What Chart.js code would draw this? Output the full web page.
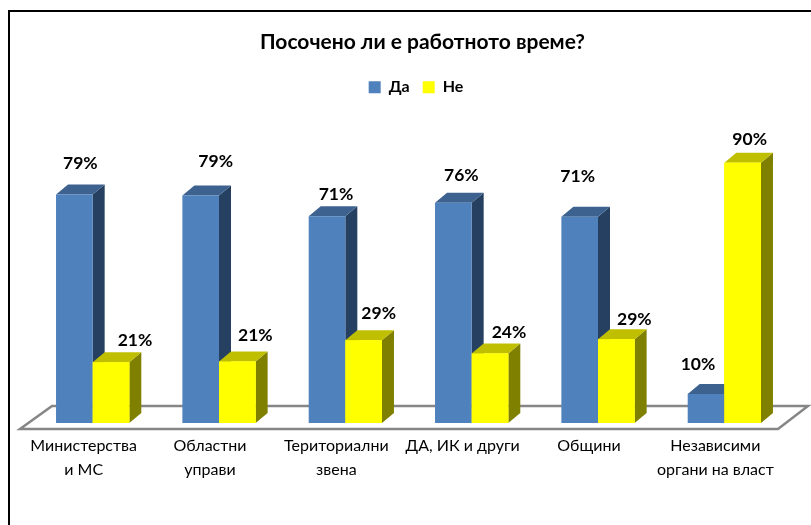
<!DOCTYPE html>
<html><head><meta charset="utf-8">
<script src="https://cdn.jsdelivr.net/npm/chart.js@4"></script>
<style>html,body{margin:0;padding:0;background:#fff}#w{width:811px;height:525px}</style>
</head><body><div id="w"><canvas id="c" width="811" height="525"></canvas></div>
<script>
const categories = [["Министерства","и МС"],["Областни","управи"],["Териториални","звена"],["ДА, ИК и други"],["Общини"],["Независими","органи на власт"]];
const yesValues = [79, 78.7, 71.5, 76.2, 71.3, 10];
const noValues = [21, 21.3, 28.6, 24, 29, 90];
const yesLabels = ["79%","79%","71%","76%","71%","10%"];
const noLabels = ["21%","21%","29%","24%","29%","90%"];
const yesOffsets = [[6,31],[15,34],[9,22],[8,27],[-2,40],[-8,30]];
const noOffsets = [[24,22],[18,26],[15,27],[19,21],[18,20],[7,23]];
const FONT = 'Lato, "Open Sans", sans-serif';
const depth = {x:12,y:10};
const palette = [{front:'#4F81BD',top:'#3D628F',side:'#254061'},{front:'#FFFF00',top:'#BFBF00',side:'#808000'}];

const scene = {
  id:'scene',
  afterLayout(ch){
    ch.titleBlock.left+=14; ch.titleBlock.right+=14;
    ch.legend.left+=7.5; ch.legend.right+=7.5;
  },
  beforeDraw(ch){
    const c=ch.ctx; c.save();
    c.strokeStyle='#000'; c.lineWidth=2;
    c.beginPath(); c.moveTo(9,525); c.lineTo(9,11); c.lineTo(811,11); c.stroke();
    c.restore();
  },
  beforeDatasetsDraw(ch){
    const c=ch.ctx, base=ch.scales.y.getPixelForValue(0);
    c.save();
    c.strokeStyle='#868686'; c.lineWidth=2.5; c.lineJoin='miter';
    c.beginPath();
    c.moveTo(20,base+6); c.lineTo(778,base+6); c.lineTo(808,base-17); c.lineTo(52,base-17); c.closePath(); c.stroke();
    [0,1].forEach(i=>{
      const p=palette[i];
      ch.getDatasetMeta(i).data.forEach(b=>{
        const l=b.x-b.width/2, r=b.x+b.width/2, t=b.y, bt=b.base;
        c.fillStyle=p.side; c.beginPath();
        c.moveTo(r,t); c.lineTo(r+depth.x,t-depth.y); c.lineTo(r+depth.x,bt-depth.y); c.lineTo(r,bt); c.closePath(); c.fill();
        c.fillStyle=p.top; c.beginPath();
        c.moveTo(l,t); c.lineTo(l+depth.x,t-depth.y); c.lineTo(r+depth.x,t-depth.y); c.lineTo(r,t); c.closePath(); c.fill();
      });
    });
    c.restore();
  },
  afterDatasetsDraw(ch){
    const c=ch.ctx; c.save();
    ch.getDatasetMeta(1).data.forEach(b=>b.draw(c));
    c.fillStyle='#000'; c.font='bold 17.5px '+FONT; c.textAlign='center'; c.textBaseline='middle';
    [[yesLabels,yesOffsets],[noLabels,noOffsets]].forEach(([lab,off],i)=>{
      ch.getDatasetMeta(i).data.forEach((b,k)=>c.fillText(lab[k],b.x+off[k][0],b.y-off[k][1]));
    });
    c.restore();
  }
};

new Chart(document.getElementById('c'),{
  type:'bar',
  data:{labels:categories,datasets:[
    {label:'Да',data:yesValues,backgroundColor:palette[0].front,categoryPercentage:0.58,barPercentage:1},
    {label:'Не',data:noValues,backgroundColor:palette[1].front,categoryPercentage:0.58,barPercentage:1}
  ]},
  options:{
    responsive:false,animation:false,
    layout:{padding:{left:29.5,right:23.5,top:30,bottom:32}},
    plugins:{
      title:{display:true,text:'Посочено ли е работното време?',color:'#000',font:{family:FONT,size:21,weight:'bold'},padding:{top:0,bottom:11}},
      legend:{display:true,position:'top',align:'center',labels:{color:'#000',boxWidth:12,boxHeight:12,padding:13,font:{family:FONT,size:16,weight:'bold'}}},
      tooltip:{enabled:false}
    },
    scales:{
      x:{grid:{display:false,drawTicks:false},border:{display:false},ticks:{color:'#000',maxRotation:0,autoSkip:false,labelOffset:-9,padding:11,font:{family:FONT,size:16,lineHeight:1.5}}},
      y:{display:false,min:0,max:109.9}
    }
  },
  plugins:[scene]
});
</script></body></html>
